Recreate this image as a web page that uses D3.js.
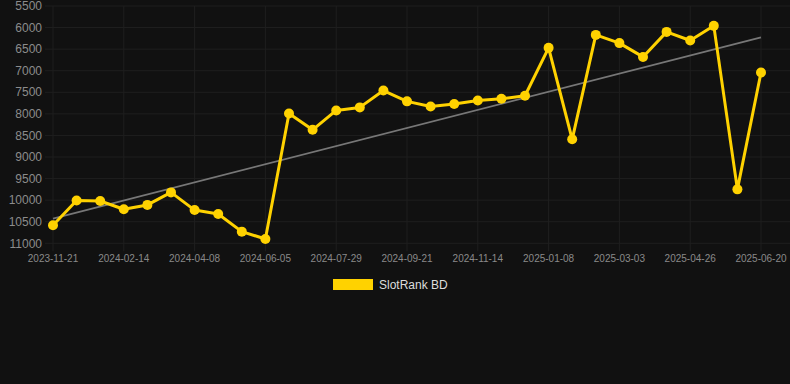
<!DOCTYPE html>
<html><head><meta charset="utf-8">
<script src="https://cdn.jsdelivr.net/npm/d3@7"></script>
<style>html,body{margin:0;padding:0;background:#111111;}svg{display:block;}</style>
</head><body>
<svg id="c" width="790" height="384"></svg>
<script>
const dates = ["2023-11-21","2023-12-19","2024-01-17","2024-02-14","2024-03-03","2024-03-21","2024-04-08","2024-04-27","2024-05-17","2024-06-05","2024-06-23","2024-07-11","2024-07-29","2024-08-16","2024-09-03","2024-09-21","2024-10-09","2024-10-27","2024-11-14","2024-12-02","2024-12-20","2025-01-08","2025-01-26","2025-02-13","2025-03-03","2025-03-21","2025-04-08","2025-04-26","2025-05-14","2025-06-01","2025-06-20"];
const ranks = [10580,10010,10020,10210,10110,9820,10230,10320,10730,10900,7990,8370,7920,7850,7460,7710,7830,7770,7690,7650,7580,6470,8590,6170,6360,6680,6100,6300,5960,9750,7040];
const yTicks = [5500,6000,6500,7000,7500,8000,8500,9000,9500,10000,10500,11000];
const seriesName = "SlotRank BD";

(function(){
const svg = d3.select("#c");
const pLeft = 45, pRight = 790, pTop = 6, pBottom = 243.3;
const x = d3.scalePoint().domain(dates).range([53, 761]);
const y = d3.scaleLinear().domain([5500, 11000]).range([pTop, pBottom]);
const labelIdx = dates.map((d,i)=>i).filter(i => i % 3 === 0);

svg.append("g").selectAll("line").data(yTicks).join("line")
  .attr("x1", pLeft).attr("x2", pRight)
  .attr("y1", d => y(d)).attr("y2", d => y(d))
  .attr("stroke", "#1f1f1f").attr("stroke-width", 1);
svg.append("g").selectAll("line").data(labelIdx).join("line")
  .attr("x1", i => x(dates[i])).attr("x2", i => x(dates[i]))
  .attr("y1", pTop).attr("y2", pBottom + 8)
  .attr("stroke", "#1f1f1f").attr("stroke-width", 1);

svg.append("g").selectAll("text").data(yTicks).join("text")
  .attr("x", 42).attr("y", d => y(d)).attr("dy", "0.35em")
  .attr("text-anchor", "end")
  .attr("font-family", "Liberation Sans, Arial, sans-serif").attr("font-size", 12)
  .attr("fill", "#8c8c8c").text(d => d);
svg.append("g").selectAll("text").data(labelIdx).join("text")
  .attr("x", i => x(dates[i])).attr("y", 262)
  .attr("text-anchor", "middle")
  .attr("font-family", "Liberation Sans, Arial, sans-serif").attr("font-size", 10)
  .attr("fill", "#8a8a8a").text(i => dates[i]);

const n = ranks.length;
const mi = d3.mean(ranks, (d,i)=>i), mv = d3.mean(ranks);
const slope = d3.sum(ranks, (d,i)=>(i-mi)*(d-mv)) / d3.sum(ranks, (d,i)=>(i-mi)*(i-mi));
const icpt = mv - slope*mi;
svg.append("line")
  .attr("x1", x(dates[0])).attr("y1", y(icpt))
  .attr("x2", x(dates[n-1])).attr("y2", y(icpt + slope*(n-1)))
  .attr("stroke", "#777777").attr("stroke-width", 1.8);

const line = d3.line().x((d,i)=>x(dates[i])).y(d=>y(d));
svg.append("path").datum(ranks).attr("d", line)
  .attr("fill", "none").attr("stroke", "#FFD200").attr("stroke-width", 3)
  .attr("stroke-linejoin", "round");
svg.append("g").selectAll("circle").data(ranks).join("circle")
  .attr("cx", (d,i)=>x(dates[i])).attr("cy", d=>y(d)).attr("r", 5)
  .attr("fill", "#FFD200");

svg.append("rect").attr("x", 333).attr("y", 279).attr("width", 40).attr("height", 11)
  .attr("fill", "#FFD200");
svg.append("text").attr("x", 379).attr("y", 289)
  .attr("font-family", "Liberation Sans, Arial, sans-serif").attr("font-size", 12)
  .attr("fill", "#dddddd").text(seriesName);
})();
</script>
</body></html>
